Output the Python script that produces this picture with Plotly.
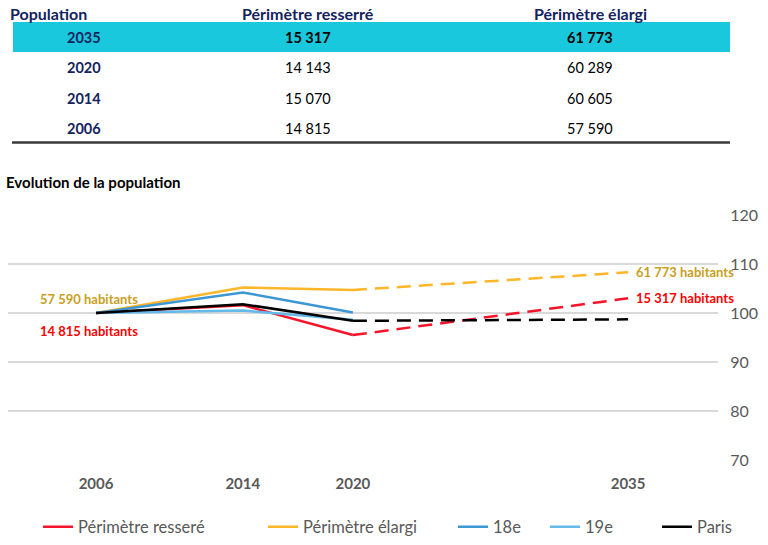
import plotly.graph_objects as go

# ---------------- Data ----------------
years = [2006, 2014, 2020, 2035]
hist_years = [2006, 2014, 2020]
proj_years = [2020, 2035]

# Index (base 100 in 2006)
resserre_idx = [100, 101.6, 95.5, 103.0]
elargi_idx = [100, 105.2, 104.7, 108.3]
arr18_idx = [100, 104.2, 100.1]
arr19_idx = [100, 100.5, 98.6]
paris_idx = [100, 101.8, 98.4, 98.7]

# Table
table_header = ["Population", "Périmètre resserré", "Périmètre élargi"]
table_years = ["2035", "2020", "2014", "2006"]
resserre_pop = ["15 317", "14 143", "15 070", "14 815"]
elargi_pop = ["61 773", "60 289", "60 605", "57 590"]

chart_title = "Evolution de la population"
series_names = ["Périmètre resseré", "Périmètre élargi", "18e", "19e", "Paris"]
y_ticks = [70, 80, 90, 100, 110, 120]

# ---------------- Style ----------------
FONT = "Lato, 'Open Sans', sans-serif"
RED = "#F5142A"
RED_TXT = "#FF0000"
ORANGE = "#FFB628"
GOLD = "#C9A020"
BLUE18 = "#3C97D3"
BLUE19 = "#62B9EA"
BLACK = "#000000"
NAVY = "#12235E"
CYAN = "#19C8DC"
GRAY = "#595959"

W, H = 768, 545
ML, MR, MT, MB = 8, 50, 215, 85
PW = W - ML - MR
PH = H - MT - MB


def py(p):  # pixel y -> paper y
    return (H - MB - p) / PH


def px(p):  # pixel x -> paper x
    return (p - ML) / PW


fig = go.Figure()

colors = [RED, ORANGE, BLUE18, BLUE19, BLACK]
legend_widths = [180, 145, 47, 67, None]
hist_series = [resserre_idx[:3], elargi_idx[:3], arr18_idx, arr19_idx, paris_idx[:3]]
proj_series = [resserre_idx[2:], elargi_idx[2:], None, None, paris_idx[2:]]

for name, col, lw, hs, ps in zip(series_names, colors, legend_widths, hist_series, proj_series):
    fig.add_trace(go.Scatter(x=hist_years, y=hs, mode="lines", name=name,
                             legendgroup=name, legendwidth=lw,
                             line=dict(color=col, width=2.5), hoverinfo="skip"))
    if ps is not None:
        fig.add_trace(go.Scatter(x=proj_years, y=ps, mode="lines", name=name,
                                 legendgroup=name, showlegend=False,
                                 line=dict(color=col, width=2.5, dash="14px,8px"),
                                 hoverinfo="skip"))

annotations = []
# Data labels
annotations.append(dict(x=years[0], y=elargi_idx[0], xref="x", yref="y",
                        text=f"<b>{elargi_pop[3]} habitants</b>", showarrow=False,
                        xanchor="center", yshift=14, xshift=-7,
                        font=dict(family=FONT, size=13, color=GOLD)))
annotations.append(dict(x=years[0], y=resserre_idx[0], xref="x", yref="y",
                        text=f"<b>{resserre_pop[3]} habitants</b>", showarrow=False,
                        xanchor="center", yshift=-18, xshift=-7,
                        font=dict(family=FONT, size=13, color=RED_TXT)))
annotations.append(dict(x=years[3], y=elargi_idx[3], xref="x", yref="y",
                        text=f"<b>{elargi_pop[0]} habitants</b>", showarrow=False,
                        xanchor="left", xshift=6,
                        font=dict(family=FONT, size=13, color=GOLD)))
annotations.append(dict(x=years[3], y=resserre_idx[3], xref="x", yref="y",
                        text=f"<b>{resserre_pop[0]} habitants</b>", showarrow=False,
                        xanchor="left", xshift=6,
                        font=dict(family=FONT, size=13, color=RED_TXT)))

# Chart title
annotations.append(dict(x=px(4), y=py(182), xref="paper", yref="paper",
                        text=f"<b>{chart_title}</b>", showarrow=False,
                        xanchor="left", yanchor="middle",
                        font=dict(family=FONT, size=15, color="#000000")))

# Table
col_centers = [84, 308, 590]
header_y = 13
row_y0, row_dy = 37, 30.5
annotations.append(dict(x=px(8), y=py(header_y), xref="paper", yref="paper",
                        text=f"<b>{table_header[0]}</b>", showarrow=False,
                        xanchor="left", yanchor="middle",
                        font=dict(family=FONT, size=16, color=NAVY)))
for j in (1, 2):
    annotations.append(dict(x=px(col_centers[j]), y=py(header_y), xref="paper", yref="paper",
                            text=f"<b>{table_header[j]}</b>", showarrow=False,
                            xanchor="center", yanchor="middle",
                            font=dict(family=FONT, size=16, color=NAVY)))
for i, (yr, r, e) in enumerate(zip(table_years, resserre_pop, elargi_pop)):
    yy = py(row_y0 + i * row_dy)
    b0, b1 = ("<b>", "</b>") if i == 0 else ("", "")
    annotations.append(dict(x=px(col_centers[0]), y=yy, xref="paper", yref="paper",
                            text=f"<b>{yr}</b>", showarrow=False, xanchor="center",
                            yanchor="middle", font=dict(family=FONT, size=14.5, color=NAVY)))
    for j, v in ((1, r), (2, e)):
        annotations.append(dict(x=px(col_centers[j]), y=yy, xref="paper", yref="paper",
                                text=f"{b0}{v}{b1}", showarrow=False, xanchor="center",
                                yanchor="middle", font=dict(family=FONT, size=14.5, color="#000000")))

shapes = [
    dict(type="rect", xref="paper", yref="paper", x0=px(13), x1=px(730),
         y0=py(52), y1=py(22), fillcolor=CYAN, line=dict(width=0), layer="below"),
    dict(type="line", xref="paper", yref="paper", x0=px(12), x1=px(730),
         y0=py(142.5), y1=py(142.5), line=dict(color="#3A3A3A", width=2.5)),
]

fig.update_layout(
    width=W, height=H,
    margin=dict(l=ML, r=MR, t=MT, b=MB, autoexpand=False),
    paper_bgcolor="white", plot_bgcolor="white",
    font=dict(family=FONT, color=GRAY),
    showlegend=True,
    legend=dict(orientation="h", x=px(38), xanchor="left", y=py(527), yanchor="middle",
                font=dict(family=FONT, size=16.5, color=GRAY), itemwidth=30,
                bgcolor="rgba(0,0,0,0)"),
    annotations=annotations,
    shapes=shapes,
    xaxis=dict(range=[2001.2, 2039.9], tickvals=years,
               ticktext=[f"<b>{y}</b>" for y in years],
               showgrid=False, zeroline=False, showline=False, automargin=False,
               ticks="outside", ticklen=10, tickcolor="rgba(0,0,0,0)",
               tickfont=dict(family=FONT, size=15, color=GRAY), fixedrange=True),
    yaxis=dict(range=[70, 120], tickvals=y_ticks, side="right",
               showgrid=True, gridcolor="#D9D9D9", gridwidth=2,
               zeroline=False, showline=False, automargin=False,
               ticks="outside", ticklen=8, tickcolor="rgba(0,0,0,0)",
               tickfont=dict(family=FONT, size=16, color=GRAY), fixedrange=True),
)

fig.write_html("out.html", config={"displayModeBar": False},
               post_script="document.body.style.margin='0px';document.body.style.overflow='hidden';")
